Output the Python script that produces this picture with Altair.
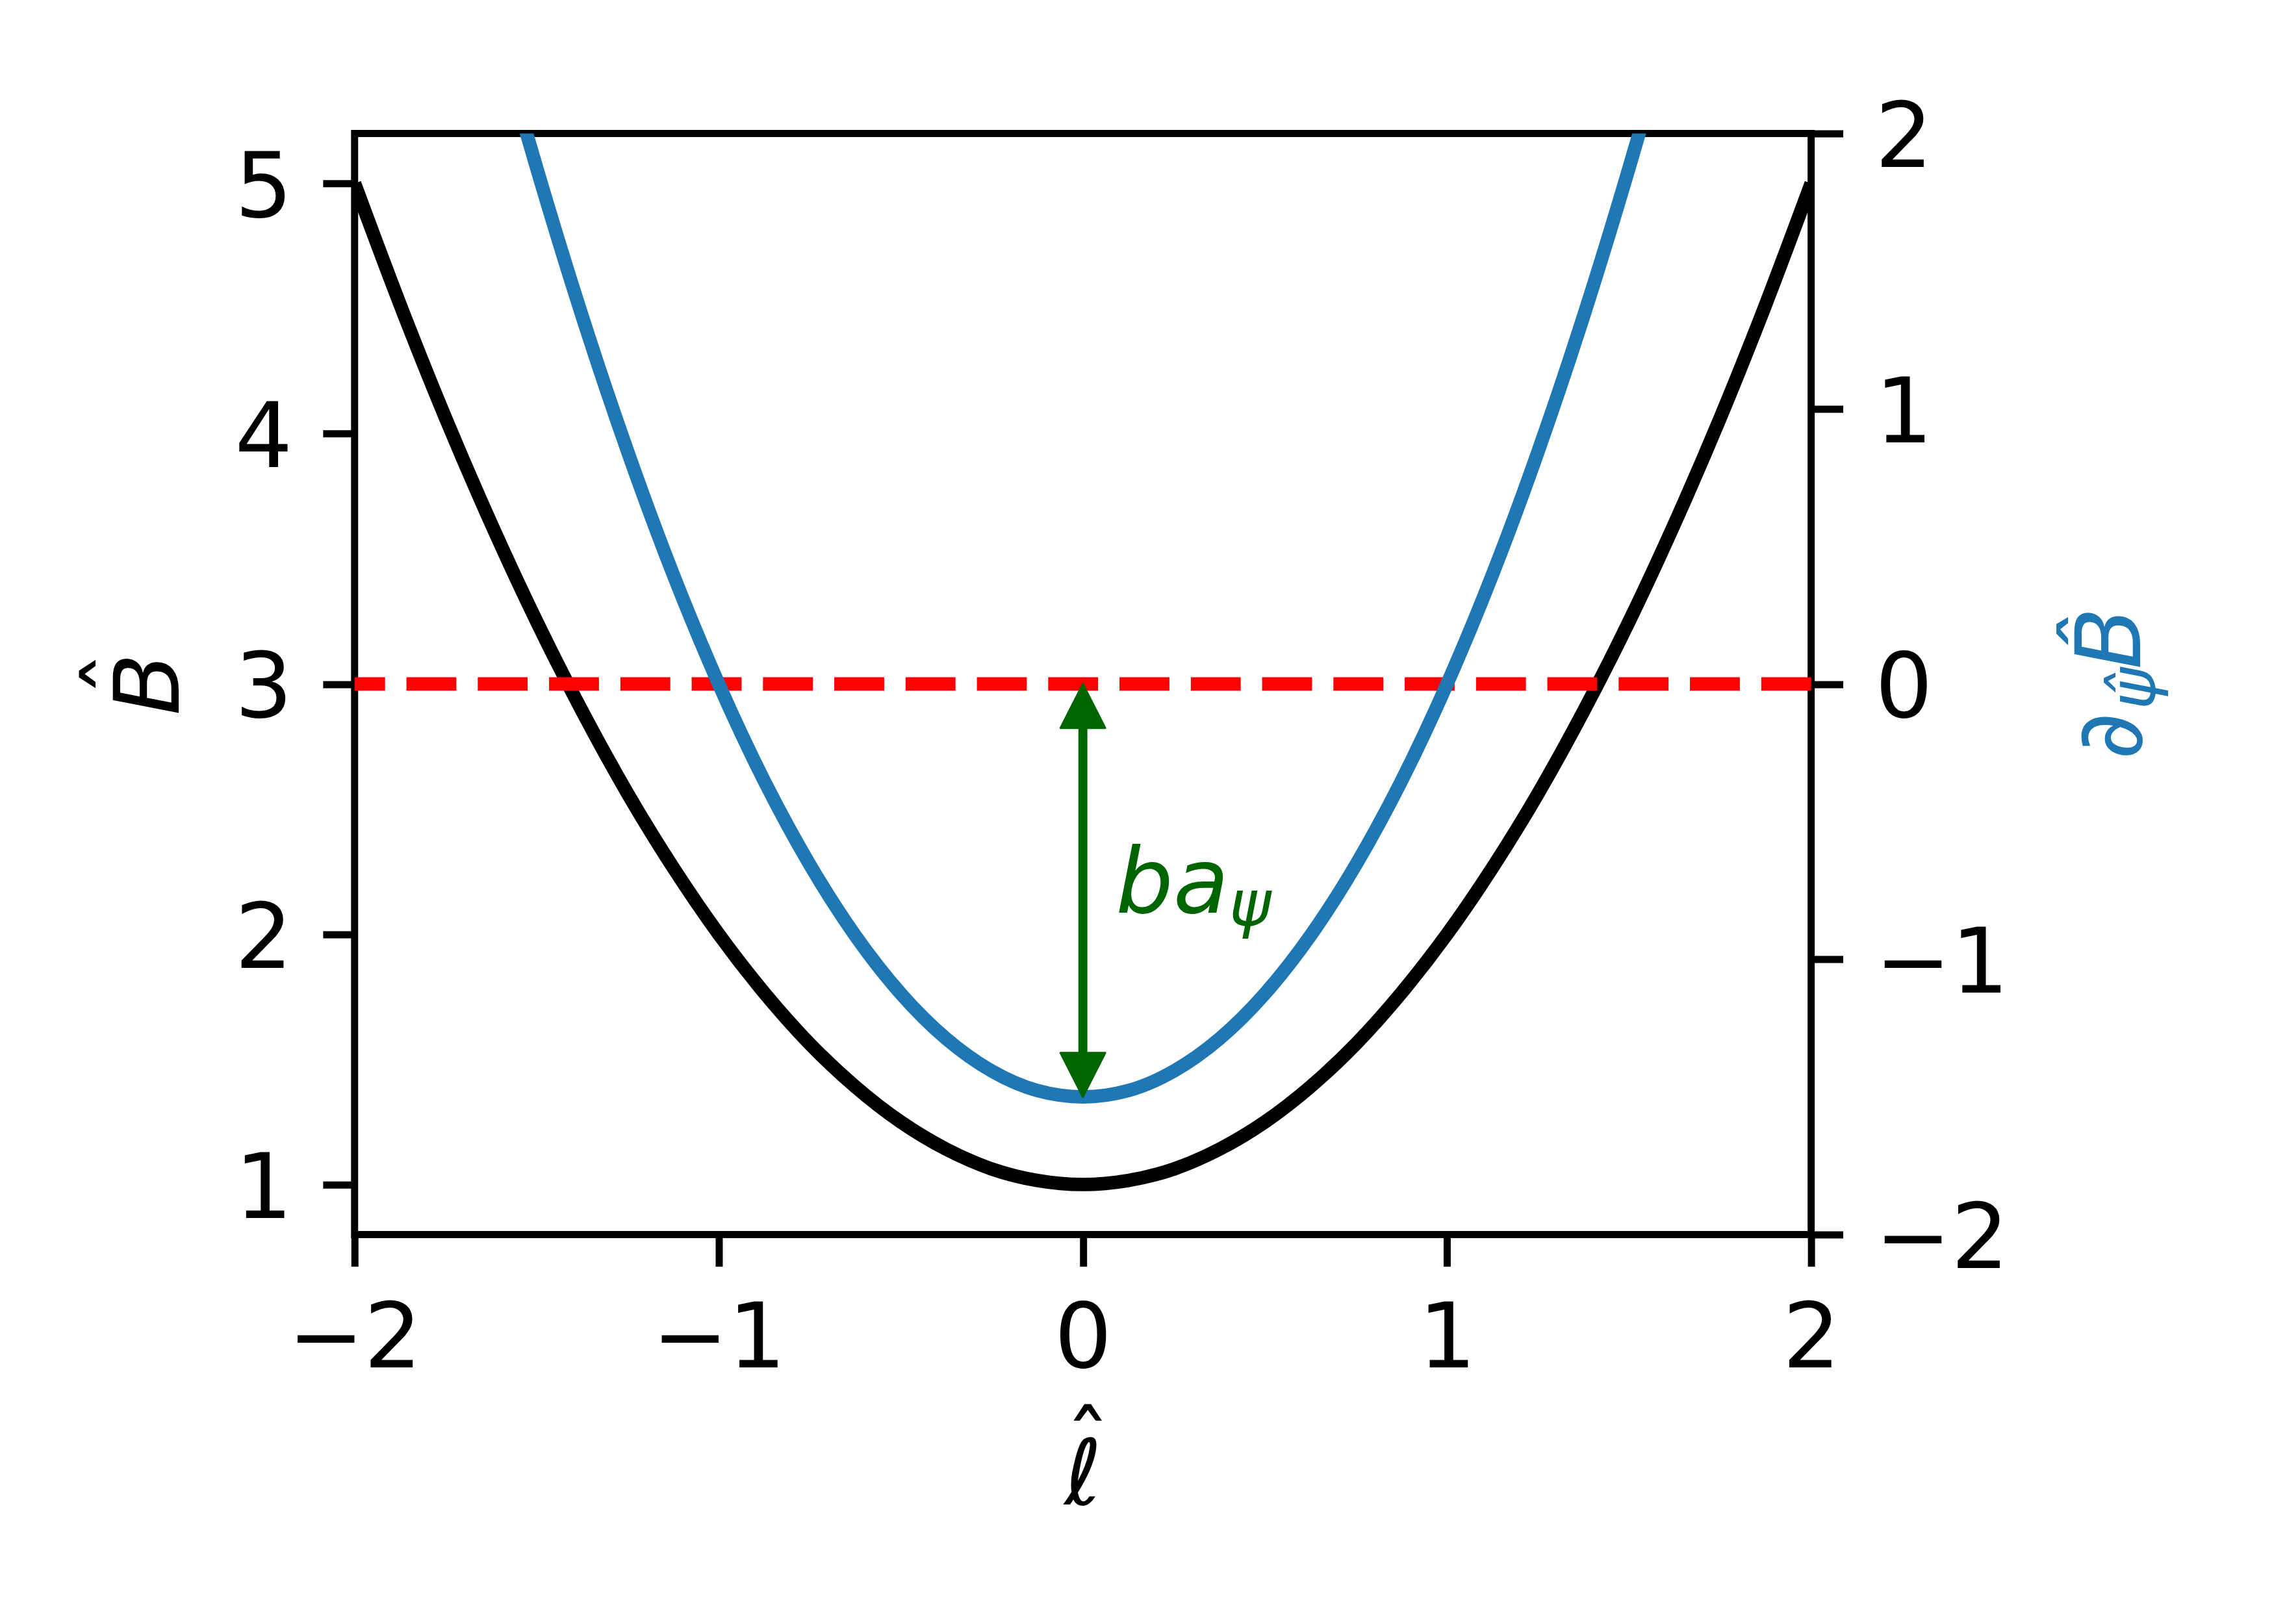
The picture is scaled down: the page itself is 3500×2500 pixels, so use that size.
import altair as alt
import pandas as pd

# ---- data ----
ell_black = [-2.0, -1.875, -1.75, -1.625, -1.5, -1.375, -1.25, -1.125, -1.0,
             -0.875, -0.75, -0.625, -0.5, -0.375, -0.25, -0.125, 0.0,
             0.125, 0.25, 0.375, 0.5, 0.625, 0.75, 0.875, 1.0,
             1.125, 1.25, 1.375, 1.5, 1.625, 1.75, 1.875, 2.0]
B_black = [5.0, 4.516, 4.062, 3.641, 3.25, 2.891, 2.562, 2.266, 2.0,
           1.766, 1.562, 1.391, 1.25, 1.141, 1.062, 1.016, 1.0,
           1.016, 1.062, 1.141, 1.25, 1.391, 1.562, 1.766, 2.0,
           2.266, 2.562, 2.891, 3.25, 3.641, 4.062, 4.516, 5.0]

ell_blue = [-1.53, -1.5, -1.375, -1.25, -1.125, -1.0, -0.875, -0.75, -0.625,
            -0.5, -0.375, -0.25, -0.125, 0.0, 0.125, 0.25, 0.375, 0.5,
            0.625, 0.75, 0.875, 1.0, 1.125, 1.25, 1.375, 1.5, 1.53]
dB_blue = [2.011, 1.875, 1.336, 0.844, 0.398, 0.0, -0.352, -0.656, -0.914,
           -1.125, -1.289, -1.406, -1.477, -1.5, -1.477, -1.406, -1.289, -1.125,
           -0.914, -0.656, -0.352, 0.0, 0.398, 0.844, 1.336, 1.875, 2.011]

x_ticks = [-2, -1, 0, 1, 2]
left_ticks = [1, 2, 3, 4, 5]
right_ticks = [-2, -1, 0, 1, 2]

red_level = 3.0              # dashed line, left axis
arrow_ell = [0.0, 0.0]       # arrow position
arrow_val = [0.0, -1.5]      # arrow ends, right axis
arrow_dir = ["up", "down"]
label_ell = [0.09]
label_val = [-0.83]

# ---- layout ----
W, H = 2247, 1699
FONT = "DejaVu Sans"
FS = 140
BLUE = "#1f77b4"
GREEN = "#006400"

df_black = pd.DataFrame({"ell": ell_black, "B": B_black})
df_blue = pd.DataFrame({"ell": ell_blue, "dB": dB_blue})
df_red = pd.DataFrame({"B": [red_level]})
df_shaft = pd.DataFrame({"ell": [arrow_ell[0]], "top": [arrow_val[0]], "bot": [arrow_val[1]]})
df_heads = pd.DataFrame({"ell": arrow_ell, "v": arrow_val, "dir": arrow_dir})
df_label = pd.DataFrame({"ell": label_ell, "v": label_val})

xscale = alt.Scale(domain=[-2, 2], nice=False, zero=False)
yL = alt.Scale(domain=[0.8, 5.2], nice=False, zero=False)
yR = alt.Scale(domain=[-2, 2], nice=False, zero=False)

common = dict(tickSize=49, tickWidth=11, tickColor="black", domain=False, grid=False,
              labelFont=FONT, labelFontSize=FS, labelColor="black", labelLimit=0,
              labelFlush=False, labelOverlap=False,
              titleFont=FONT, titleFontSize=FS, titleColor="black", titleFontWeight="normal",
              labelExpr="replace(datum.label, '-', '\u2212')")

x_axis = alt.Axis(values=x_ticks, format="d", labelPadding=44,
                  title="\u2113", titleFontStyle="italic",
                  titleBaseline="alphabetic", titleY=416, **common)
x_enc = alt.X("ell:Q", scale=xscale, axis=x_axis)

left_axis = alt.Axis(values=left_ticks, format="d", labelPadding=47, labelOffset=9,
                     title="B", titleFontStyle="italic", titleAngle=270,
                     titleBaseline="alphabetic", titleAlign="center",
                     titleX=-272, titleY=H / 2, **common)
right_axis = alt.Axis(values=right_ticks, format="d", orient="right", labelPadding=49,
                      labelOffset=9, title=None, **common)

black = alt.Chart(df_black).mark_line(
    color="black", strokeWidth=20.8, interpolate="monotone", clip=True
).encode(x=x_enc, y=alt.Y("B:Q", scale=yL, axis=left_axis))

red = alt.Chart(df_red).mark_rule(
    color="#ff0000", strokeWidth=20.8, strokeDash=[77, 33], strokeCap="butt"
).encode(y=alt.Y("B:Q", scale=yL))

left = alt.layer(black, red)

blue = alt.Chart(df_blue).mark_line(
    color=BLUE, strokeWidth=20.8, interpolate="monotone", clip=True
).encode(x=alt.X("ell:Q", scale=xscale), y=alt.Y("dB:Q", scale=yR, axis=right_axis))

shaft = alt.Chart(df_shaft).mark_rule(
    color=GREEN, strokeWidth=13.9, yOffset=62, y2Offset=-62
).encode(x=alt.X("ell:Q", scale=xscale), y=alt.Y("top:Q", scale=yR), y2="bot:Q")

path_up = "M0,0L-1,1.97L1,1.97Z"
path_down = "M0,0L-1,-1.97L1,-1.97Z"
heads = alt.Chart(df_heads).mark_point(
    filled=True, fill=GREEN, stroke=GREEN, strokeWidth=3, strokeJoin="round", opacity=1, size=4761
).encode(
    x=alt.X("ell:Q", scale=xscale),
    y=alt.Y("v:Q", scale=yR),
    shape=alt.Shape("dir:N", scale=alt.Scale(domain=["up", "down"], range=[path_up, path_down]), legend=None),
)

lab_ba = alt.Chart(df_label).mark_text(
    text="ba", font=FONT, fontSize=FS, fontStyle="italic", color=GREEN,
    align="left", baseline="alphabetic"
).encode(x=alt.X("ell:Q", scale=xscale), y=alt.Y("v:Q", scale=yR))
lab_psi = alt.Chart(df_label).mark_text(
    text="\u03c8", font=FONT, fontSize=98, fontStyle="italic", color=GREEN,
    align="left", baseline="alphabetic", dx=175, dy=20
).encode(x=alt.X("ell:Q", scale=xscale), y=alt.Y("v:Q", scale=yR))

one = alt.Data(values=[{}])
# hat over the x-axis title
x_hat = alt.Chart(one).mark_text(
    text="\u02c6", font=FONT, fontSize=FS, color="black",
    align="center", baseline="alphabetic"
).encode(x=alt.value(1131), y=alt.value(2072))
# hat over the left-axis title
y_hat = alt.Chart(one).mark_text(
    text="\u02c6", font=FONT, fontSize=FS, color="black", angle=270,
    align="center", baseline="alphabetic"
).encode(x=alt.value(-313), y=alt.value(834))

# right axis title: \partial_{\hat\psi} \hat B  (composite, rotated)
t_d = alt.Chart(one).mark_text(
    text="\u2202", font=FONT, fontSize=FS, color=BLUE, angle=270,
    align="left", baseline="alphabetic"
).encode(x=alt.value(2757), y=alt.value(966))
t_psi = alt.Chart(one).mark_text(
    text="\u03c8\u0302", font=FONT, fontSize=98, fontStyle="italic", color=BLUE, angle=270,
    align="left", baseline="alphabetic"
).encode(x=alt.value(2778), y=alt.value(889))
t_B = alt.Chart(one).mark_text(
    text="B\u0302", font=FONT, fontSize=FS, fontStyle="italic", color=BLUE, angle=270,
    align="left", baseline="alphabetic"
).encode(x=alt.value(2755), y=alt.value(827))

right = alt.layer(blue, shaft, heads, lab_ba, lab_psi, x_hat, y_hat, t_d, t_psi, t_B)

chart = alt.layer(left, right).resolve_scale(y="independent").properties(
    width=W, height=H,
    padding={"left": 539, "top": 195, "right": 706, "bottom": 590},
    autosize=alt.AutoSizeParams(type="none"),
    background="white",
).configure_view(stroke="black", strokeWidth=11)

chart.save("out.html", embed_options={"renderer": "svg", "actions": False})
